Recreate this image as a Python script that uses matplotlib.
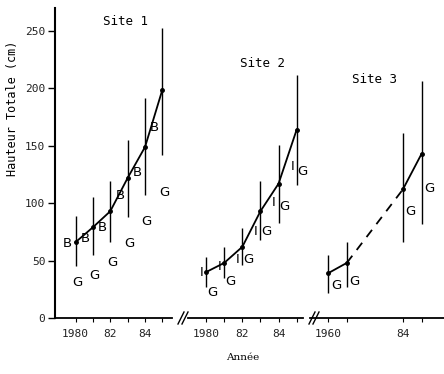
import matplotlib
matplotlib.use('Agg')
import matplotlib.pyplot as plt
from matplotlib.lines import Line2D

# Site 1 : moyenne + étendue, et valeurs B / G
years1 = [1980, 1981, 1982, 1983, 1984, 1985]
mean1 = [66, 79, 93, 122, 149, 199]
low1 = [45, 55, 66, 88, 107, 142]
high1 = [89, 105, 119, 155, 192, 253]
b1 = [65, 69, 79, 107, 127, 166]
g1 = [31, 37, 48, 65, 84, 109]

# Site 2 : valeurs I / G
years2 = [1980, 1981, 1982, 1983, 1984, 1985]
mean2 = [40, 48, 62, 93, 117, 164]
low2 = [27, 35, 46, 68, 83, 116]
high2 = [53, 62, 78, 119, 151, 212]
i2 = [40, 45, 51, 75, 101, 132]
g2 = [22, 32, 51, 75, 97, 128]

# Site 3 : pas de mesures en 1982-1983
years3 = [1980, 1981, 1984, 1985]
mean3 = [39, 48, 112, 143]
low3 = [22, 27, 66, 82]
high3 = [55, 66, 161, 206]
g3 = [28, 32, 93, 113]

yticks = [0, 50, 100, 150, 200, 250]
xlabels1 = ['1980', '', '82', '', '84', '']
xlabels2 = ['1980', '', '82', '', '84', '']
xlabels3 = ['1960', '', '84', '']
titles = ['Site 1', 'Site 2', 'Site 3']

W, H = 444, 374
mono = 'DejaVu Sans Mono'
fig = plt.figure(figsize=(W / 100, H / 100), dpi=100)


def px_axes(left, right, bottom=318, top=8):
    return fig.add_axes([left / W, 1 - bottom / H, (right - left) / W, (bottom - top) / H])


ax1 = px_axes(55, 172)
ax2 = px_axes(188, 303)
ax3 = px_axes(310, 444)
ax1.set_xlim(1978.82, 1985.55)
ax2.set_xlim(1979.0, 1985.35)
ax3.set_xlim(1979.03, 1986.2)

panels = [(ax1, years1, xlabels1), (ax2, years2, xlabels2), (ax3, years3, xlabels3)]
for ax, yrs, labs in panels:
    ax.set_ylim(0, 270)
    ax.spines['top'].set_visible(False)
    ax.spines['right'].set_visible(False)
    ax.spines['bottom'].set_linewidth(1.3)
    ax.set_xticks(yrs)
    ax.set_xticklabels(labs, fontfamily=mono, fontsize=8, color='#222222')
    ax.tick_params(axis='x', length=3, width=0.8, pad=5)
    ax.patch.set_visible(False)

ax1.spines['left'].set_linewidth(1.5)
ax1.set_yticks(yticks)
ax1.set_yticklabels([str(v) for v in yticks], fontfamily=mono, fontsize=8, color='#222222')
ax1.tick_params(axis='y', length=5, width=1, pad=2)
for ax in (ax2, ax3):
    ax.spines['left'].set_visible(False)
    ax.set_yticks([])

# barres verticales et moyennes
ax1.vlines(years1, low1, high1, color='black', lw=1)
ax1.plot(years1, mean1, color='black', lw=1.3, marker='o', ms=2.5)
ax2.vlines(years2, low2, high2, color='black', lw=1)
ax2.plot(years2, mean2, color='black', lw=1.3, marker='o', ms=2.5)
ax3.vlines(years3, low3, high3, color='black', lw=1)
ax3.plot(years3[:2], mean3[:2], color='black', lw=1.3, marker='o', ms=2.5)
ax3.plot(years3[2:], mean3[2:], color='black', lw=1.3, marker='o', ms=2.5)
ax3.plot(years3[1:3], mean3[1:3], color='black', lw=1.3, ls=(0, (5, 4)))

letter = dict(fontsize=9.5, ha='center', va='center', color='black')
for yr, v in zip(years1, b1):
    ax1.text(yr - 0.45, v, 'B', **letter)
for yr, v in zip(years1, g1):
    ax1.text(yr + 0.1, v, 'G', **letter)
for yr, v in zip(years2, i2):
    ax2.text(yr - 0.25, v, 'I', **letter)
for yr, v in zip(years2, g2):
    ax2.text(yr + 0.32, v, 'G', **letter)
for yr, v in zip(years3, g3):
    ax3.text(yr + 0.42, v, 'G', **letter)

ax1.text(1982.9, 258, titles[0], fontfamily=mono, fontsize=9, ha='center', va='center')
ax2.text(1983.1, 222, titles[1], fontfamily=mono, fontsize=9, ha='center', va='center')
ax3.text(1982.5, 208, titles[2], fontfamily=mono, fontsize=9, ha='center', va='center')

# coupures de l'axe des x
for cx in (184, 315):
    for dx in (-3, 1):
        x0, x1 = cx + dx - 3, cx + dx + 3
        fig.add_artist(Line2D([x0 / W, x1 / W], [1 - 324 / H, 1 - 312 / H],
                              color='black', lw=1))

fig.text(13 / W, 1 - 108 / H, 'Hauteur Totale (cm)', rotation=90, fontfamily=mono,
         fontsize=8.5, ha='center', va='center')
fig.text(243 / W, 1 - 358 / H, 'Année', fontfamily='DejaVu Serif', fontsize=7.5,
         ha='center', va='center')

fig.savefig('out.png', dpi=100)
